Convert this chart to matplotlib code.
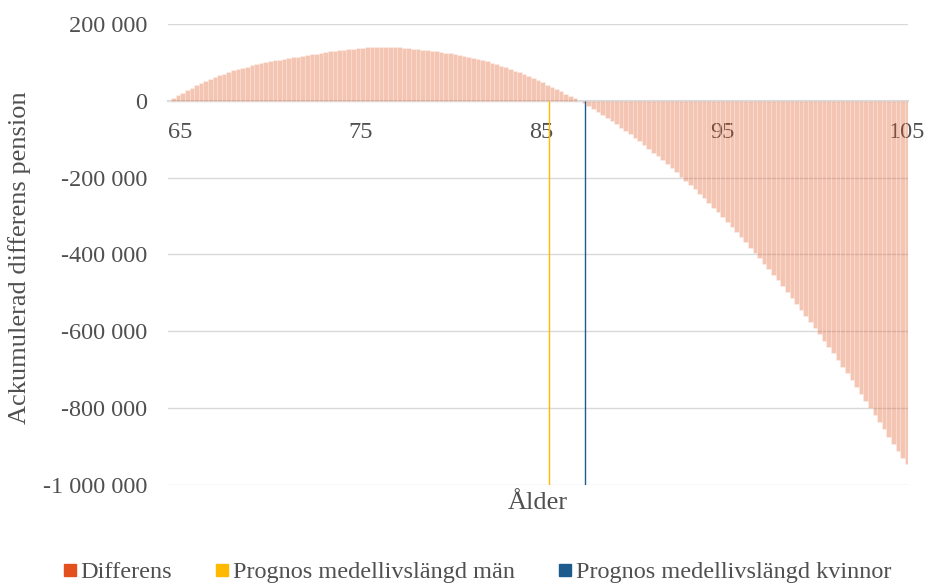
import matplotlib.pyplot as plt
import numpy as np
from matplotlib.lines import Line2D

plt.rcParams['font.family'] = ['Liberation Serif', 'DejaVu Serif']

# Ackumulerad differens (tusental kr), kvartalsvis från 65 år till 105 år
diff_k = [
    0, 7.5, 14.5, 21.5,            # 65
    28, 34, 40, 45.5,              # 66
    51, 56, 61, 66,                # 67
    71, 75, 79, 82.5,              # 68
    86, 89, 92, 95,                # 69
    98, 100.5, 103, 105,           # 70
    107, 109, 111, 113,            # 71
    115, 117, 119, 121,            # 72
    123, 125, 126.5, 128.5,        # 73
    130, 131.5, 133, 134.5,        # 74
    136, 137, 138, 139,            # 75
    140, 140.5, 141, 141,          # 76
    141, 140, 139, 138,            # 77
    137, 136, 134.5, 133.5,        # 78
    132, 130.5, 129, 127.5,        # 79
    125.5, 123.5, 121.5, 119.5,    # 80
    117, 114.5, 112, 109,          # 81
    106, 102.5, 99, 95,            # 82
    91, 87, 82.5, 78,              # 83
    74, 69, 64, 59,                # 84
    54, 48.5, 42.5, 37,            # 85
    31, 25, 19, 13,                # 86
    7, 0.5, -6.5, -13.5,           # 87
    -21, -29, -36.5, -44.5,        # 88
    -53, -61, -69.5, -78.5,        # 89
    -87, -96.5, -105.5, -115,      # 90
    -124.5, -134.5, -144.5, -154.5,  # 91
    -165, -175.5, -186, -197,      # 92
    -208, -219.5, -230.5, -242.5,  # 93
    -254, -266, -278, -290.5,      # 94
    -303, -316, -328.5, -341.5,    # 95
    -355, -368.5, -382, -396,      # 96
    -410, -424, -438, -452.5,      # 97
    -467, -482, -497, -512.5,      # 98
    -528, -543.5, -559, -575.5,    # 99
    -591.5, -607.5, -624, -641,    # 100
    -657.5, -675, -692, -709.5,    # 101
    -727, -745, -763, -781,        # 102
    -799, -817.5, -836.5, -855,    # 103
    -874, -893, -912, -929,        # 104
    -945,                          # 105
]
ages = 65 + 0.25 * np.arange(len(diff_k))
differens = np.array(diff_k) * 1000

# Prognos medellivslängd
life_men = 85.6
life_women = 87.55

y_ticks = [200000, 0, -200000, -400000, -600000, -800000, -1000000]
x_tick_labels = ['65', '75', '85', '95', '105']

legend_labels = ['Differens', 'Prognos medellivslängd män', 'Prognos medellivslängd kvinnor']
c_diff = '#E2501E'
c_men = '#FFB900'
c_women = '#1D5B8C'
txt = '#505050'

fig = plt.figure(figsize=(9.27, 5.83), dpi=100)
ax = fig.add_axes([168 / 927, 1 - 485 / 583, 740 / 927, 461 / 583])

ax.bar(ages, differens, width=0.25, color=c_diff, alpha=0.33,
       edgecolor='white', linewidth=0.5, zorder=2)
ax.vlines(life_men, -1000000, 0, color=c_men, lw=1, zorder=3)
ax.vlines(life_women, -1000000, 0, color=c_women, lw=1, zorder=3)

ax.set_xlim(64.96, 105.04)
ax.set_ylim(-1000000, 200000)

ax.set_yticks(y_ticks)
ax.set_yticklabels([f'{v:,}'.replace(',', ' ') for v in y_ticks])
ax.yaxis.grid(True, color='#D9D9D9', lw=1)
ax.set_axisbelow(True)

# etiketterna placeras som i originalet
ax.set_xticks([65.6, 75.4, 85.2, 95.0, 105.0])
ax.set_xticklabels(x_tick_labels)

for s in ['top', 'right', 'left']:
    ax.spines[s].set_visible(False)
ax.spines['bottom'].set_position(('data', 0))
ax.spines['bottom'].set_color('#D9D9D9')
ax.spines['bottom'].set_linewidth(1.5)
ax.spines['bottom'].set_zorder(1)

ax.tick_params(axis='both', length=0, labelsize=17.5, colors=txt)
ax.tick_params(axis='y', pad=15)
ax.tick_params(axis='x', pad=15)

ax.text(0.5, -18 / 461, 'Ålder', transform=ax.transAxes, ha='center', va='center',
        fontsize=19, color=txt)
fig.text(20 / 927, 1 - 257.5 / 583, 'Ackumulerad differens pension', rotation=90,
         ha='center', va='center', fontsize=19, color=txt)

handles = [Line2D([], [], marker='s', ls='none', color=c, markersize=8)
           for c in [c_diff, c_men, c_women]]
fig.legend(handles, legend_labels, loc='center', bbox_to_anchor=(477.5 / 927, 1 - 572 / 583),
           ncol=3, frameon=False, fontsize=17.5, handlelength=0.5, handletextpad=0.2,
           columnspacing=1.8, labelcolor=txt, borderaxespad=0, borderpad=0)

fig.savefig('out.png', dpi=100)
